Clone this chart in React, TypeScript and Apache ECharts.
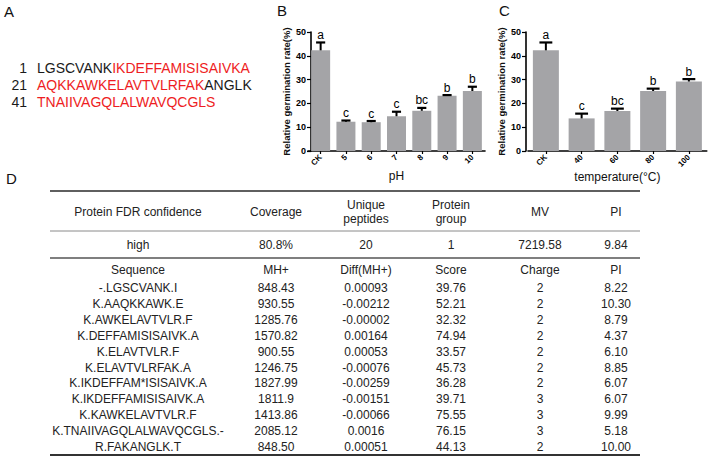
import React, { useEffect, useRef } from 'react';
import * as echarts from 'echarts';

// ---------- data ----------
const phCategories = ['CK', '5', '6', '7', '8', '9', '10'];
const phMeans = [42.3, 12.3, 12.1, 14.6, 16.9, 23.2, 25.2];
const phErrors = [3.3, 0.5, 0.5, 1.9, 1.2, 0.3, 1.8];
const phLetters = ['a', 'c', 'c', 'c', 'bc', 'b', 'b'];

const tempCategories = ['CK', '40', '60', '80', '100'];
const tempMeans = [42.3, 13.7, 16.8, 25.2, 29.2];
const tempErrors = [3.3, 2.0, 1.0, 1.0, 1.0];
const tempLetters = ['a', 'c', 'bc', 'b', 'b'];

const seqNumbers = ['1', '21', '41'];
const seqBlack1 = ['LGSCVANK', '', ''];
const seqRed = ['IKDEFFAMISISAIVKA', 'AQKKAWKELAVTVLRFAK', 'TNAIIVAGQLALWAVQCGLS'];
const seqBlack2 = ['', 'ANGLK', ''];

const summaryHeaders = ['Protein FDR confidence', 'Coverage', 'Unique\npeptides', 'Protein\ngroup', 'MV', 'PI'];
const summaryValues = ['high', '80.8%', '20', '1', '7219.58', '9.84'];
const peptideHeaders = ['Sequence', 'MH+', 'Diff(MH+)', 'Score', 'Charge', 'PI'];
const peptideSequences = [
  '-.LGSCVANK.I', 'K.AAQKKAWK.E', 'K.AWKELAVTVLR.F', 'K.DEFFAMISISAIVK.A', 'K.ELAVTVLR.F',
  'K.ELAVTVLRFAK.A', 'K.IKDEFFAM*ISISAIVK.A', 'K.IKDEFFAMISISAIVK.A', 'K.KAWKELAVTVLR.F',
  'K.TNAIIVAGQLALWAVQCGLS.-', 'R.FAKANGLK.T',
];
const peptideMH = ['848.43', '930.55', '1285.76', '1570.82', '900.55', '1246.75', '1827.99', '1811.9', '1413.86', '2085.12', '848.50'];
const peptideDiff = ['0.00093', '-0.00212', '-0.00002', '0.00164', '0.00053', '-0.00076', '-0.00259', '-0.00151', '-0.00066', '0.0016', '0.00051'];
const peptideScore = ['39.76', '52.21', '32.32', '74.94', '33.57', '45.73', '36.28', '39.71', '75.55', '76.15', '44.13'];
const peptideCharge = ['2', '2', '2', '2', '2', '2', '2', '3', '3', '3', '2'];
const peptidePI = ['8.22', '10.30', '8.79', '4.37', '6.10', '8.85', '6.07', '6.07', '9.99', '5.18', '10.00'];

// ---------- layout ----------
const FONT = 'Liberation Sans, Arial, sans-serif';
const colX = [138, 276, 366, 451, 540, 616];
const tableLeft = 50;
const tableRight = 640;
const BAR_COLOR = '#a4a4a7';
const RED = '#ee1d23';

function errorSeries(xIdx: number, means: number[], errs: number[], letters: string[]) {
  return {
    type: 'custom',
    xAxisIndex: xIdx,
    yAxisIndex: xIdx,
    z: 5,
    itemStyle: { color: '#000' },
    data: means.map((m, i) => [i, m, errs[i]]),
    renderItem: (params: any, api: any) => {
      const x = api.value(0);
      const m = api.value(1);
      const e = api.value(2);
      const base = api.coord([x, m]);
      const top = api.coord([x, m + e]);
      const band = api.size([1, 0])[0];
      const cw = band * 0.18;
      return {
        type: 'group',
        children: [
          { type: 'line', shape: { x1: base[0], y1: base[1], x2: top[0], y2: top[1] }, style: { stroke: '#000', lineWidth: 2 } },
          { type: 'line', shape: { x1: top[0] - cw, y1: top[1], x2: top[0] + cw, y2: top[1] }, style: { stroke: '#000', lineWidth: 2.2 } },
          {
            type: 'text', x: top[0], y: top[1] - 1.5,
            style: { text: letters[params.dataIndex], align: 'center', verticalAlign: 'bottom', fontSize: 12, fontFamily: FONT, fill: '#000', stroke: 'none' },
          },
        ],
      };
    },
  };
}

function makeXAxis(gi: number, cats: string[], name: string) {
  return {
    type: 'category', gridIndex: gi, data: cats,
    name, nameLocation: 'middle', nameGap: 18,
    nameTextStyle: { fontSize: 12, color: '#111', fontFamily: FONT },
    axisLine: { lineStyle: { color: '#000', width: 1.6 } },
    axisTick: { show: true, alignWithLabel: true, length: 3, lineStyle: { color: '#000', width: 1.2 } },
    axisLabel: { rotate: 45, fontSize: 8, fontWeight: 'bold', color: '#000', margin: 5, fontFamily: FONT, interval: 0 },
  };
}

function makeYAxis(gi: number, offset: number) {
  return {
    type: 'value', gridIndex: gi, min: 0, max: 50, interval: 10, offset,
    name: 'Relative germination rate(%)', nameLocation: 'middle', nameGap: 20,
    nameTextStyle: { fontSize: 9.5, fontWeight: 'bold', color: '#111', fontFamily: FONT },
    axisLine: { show: true, lineStyle: { color: '#000', width: 1.6 } },
    axisTick: { show: true, length: 4, lineStyle: { color: '#000', width: 1.2 } },
    axisLabel: { fontSize: 9, fontWeight: 'bold', color: '#000', margin: 5, fontFamily: FONT },
    splitLine: { show: false },
  };
}

function buildGraphics() {
  const g: any[] = [];
  const panel = (t: string, x: number, y: number) =>
    g.push({ type: 'text', left: x, top: y, style: { text: t, fontSize: 15, fontFamily: FONT, fill: '#111' } });
  panel('A', 4, 4);
  panel('B', 277, 3);
  panel('C', 499, 3);
  panel('D', 6, 171);

  // panel A sequence
  const seqY = [68, 85, 102];
  seqNumbers.forEach((n, i) => {
    g.push({ type: 'text', x: 27, y: seqY[i], style: { text: n, align: 'right', verticalAlign: 'middle', fontSize: 14, fontFamily: FONT, fill: '#1a1a1a' } });
    let txt = '';
    if (seqBlack1[i]) txt += `{k|${seqBlack1[i]}}`;
    if (seqRed[i]) txt += `{r|${seqRed[i]}}`;
    if (seqBlack2[i]) txt += `{k|${seqBlack2[i]}}`;
    g.push({
      type: 'text', x: 37, y: seqY[i],
      style: {
        text: txt, align: 'left', verticalAlign: 'middle', fontSize: 14, fontFamily: FONT,
        rich: {
          k: { fill: '#1a1a1a', color: '#1a1a1a', fontSize: 14, fontFamily: FONT },
          r: { fill: RED, color: RED, fontSize: 14, fontFamily: FONT },
        },
      },
    });
  });

  // table lines
  const hline = (y: number, w: number, c: string) =>
    g.push({ type: 'line', shape: { x1: tableLeft, y1: y, x2: tableRight, y2: y }, style: { stroke: c, lineWidth: w } });
  hline(191, 1.5, '#2a2a2a');
  hline(231, 1, '#8a8a8a');
  hline(258, 1.5, '#555');
  hline(455, 2, '#333');

  const cell = (t: string, x: number, y: number) =>
    g.push({ type: 'text', x, y, style: { text: t, align: 'center', verticalAlign: 'middle', fontSize: 12, lineHeight: 14, fontFamily: FONT, fill: '#222' } });

  summaryHeaders.forEach((h, i) => cell(h, colX[i], 212));
  summaryValues.forEach((v, i) => cell(v, colX[i], 245));
  peptideHeaders.forEach((h, i) => cell(h, colX[i], 270));
  const cols = [peptideSequences, peptideMH, peptideDiff, peptideScore, peptideCharge, peptidePI];
  peptideSequences.forEach((_, r) => {
    const y = 288 + r * 15.9;
    cols.forEach((col, c) => cell(col[r], colX[c], y));
  });
  return g;
}

export default function App() {
  const ref = useRef<HTMLDivElement>(null);
  useEffect(() => {
    if (!ref.current) return;
    const chart = echarts.init(ref.current, undefined, { renderer: 'svg' });
    chart.setOption({
      animation: false,
      backgroundColor: '#fff',
      textStyle: { fontFamily: FONT },
      grid: [
        { left: 308, top: 32, width: 177, height: 119 },
        { left: 528, top: 32, width: 178.75, height: 119 },
      ],
      xAxis: [makeXAxis(0, phCategories, 'pH'), makeXAxis(1, tempCategories, 'temperature(°C)')],
      yAxis: [makeYAxis(0, -3), makeYAxis(1, 2)],
      series: [
        { type: 'bar', xAxisIndex: 0, yAxisIndex: 0, data: phMeans, barWidth: 19, itemStyle: { color: BAR_COLOR } },
        errorSeries(0, phMeans, phErrors, phLetters),
        { type: 'bar', xAxisIndex: 1, yAxisIndex: 1, data: tempMeans, barWidth: 26, itemStyle: { color: BAR_COLOR } },
        errorSeries(1, tempMeans, tempErrors, tempLetters),
      ],
      graphic: buildGraphics(),
    });
    return () => chart.dispose();
  }, []);
  return <div ref={ref} style={{ position: 'absolute', left: 0, top: 0, width: 709, height: 456 }} />;
}
